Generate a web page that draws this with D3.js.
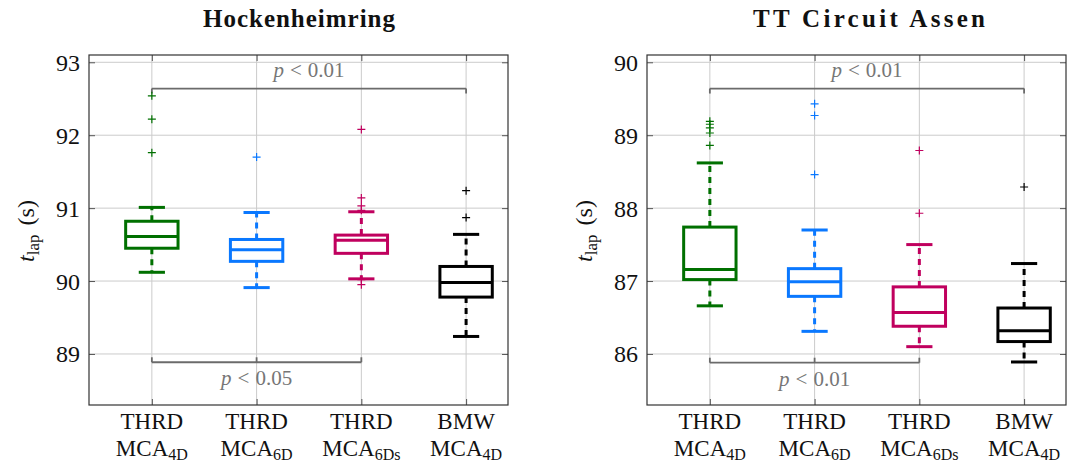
<!DOCTYPE html>
<html>
<head>
<meta charset="utf-8">
<script src="https://cdn.jsdelivr.net/npm/d3@7"></script>
<style>
  body { margin: 0; background: #fff; }
  svg { display: block; }
  text { font-family: "Liberation Serif", "Times New Roman", serif; }
</style>
</head>
<body>
<svg id="chart" width="1091" height="474"></svg>
<script>
// Categories (two-line tick labels) and series colours
const categoryTop = ["THRD", "THRD", "THRD", "BMW"];
const categorySub = ["4D", "6D", "6Ds", "4D"];
const seriesColors = ["#007000", "#0a78ff", "#c0005e", "#000000"];

// Hockenheimring lap times (s): whiskers, quartiles, medians, outliers
const hockLower  = [90.12, 89.91, 90.03, 89.24];
const hockQ1     = [90.45, 90.27, 90.38, 89.78];
const hockMedian = [90.61, 90.43, 90.56, 89.98];
const hockQ3     = [90.82, 90.57, 90.63, 90.20];
const hockUpper  = [91.01, 90.94, 90.95, 90.64];
const hockOutliers = [
  [92.54, 92.22, 91.76],
  [91.70],
  [92.08, 91.14, 91.03, 90.97, 90.02, 89.95],
  [91.24, 90.87]
];
const hockTicks = [89, 90, 91, 92, 93];

// TT Circuit Assen lap times (s)
const assenLower  = [86.66, 86.31, 86.10, 85.89];
const assenQ1     = [87.02, 86.79, 86.38, 86.17];
const assenMedian = [87.16, 86.99, 86.57, 86.32];
const assenQ3     = [87.74, 87.17, 86.92, 86.63];
const assenUpper  = [88.62, 87.70, 87.50, 87.24];
const assenOutliers = [
  [89.19, 89.15, 89.10, 89.03, 88.86],
  [89.43, 89.27, 88.46],
  [88.79, 87.93],
  [88.29]
];
const assenTicks = [86, 87, 88, 89, 90];

// Significance brackets: from/to category, level, label, label category
const hockBrackets = [
  { from: 1, to: 4, level: 92.64, label: "0.01", side: "top" },
  { from: 1, to: 3, level: 88.886, label: "0.05", side: "bottom", mid: 2 }
];
const assenBrackets = [
  { from: 1, to: 4, level: 89.64, label: "0.01", side: "top" },
  { from: 1, to: 3, level: 85.88, label: "0.01", side: "bottom", mid: 2 }
];

const svg = d3.select("#chart");
const plotTop = 55, plotBottom = 405;

function drawPanel(cfg) {
  const x = d3.scaleLinear().domain([0.4, 4.4]).range([cfg.x0, cfg.x1]);
  const y = d3.scaleLinear().domain(cfg.yDomain).range([plotBottom, plotTop]);
  const g = svg.append("g");
  const cats = [1, 2, 3, 4];

  // grid
  g.append("g").selectAll("line").data(cats).join("line")
    .attr("x1", d => x(d)).attr("x2", d => x(d))
    .attr("y1", plotTop).attr("y2", plotBottom)
    .attr("stroke", "#cbcbcb").attr("stroke-width", 1);
  g.append("g").selectAll("line").data(cfg.ticks).join("line")
    .attr("x1", cfg.x0).attr("x2", cfg.x1)
    .attr("y1", d => y(d)).attr("y2", d => y(d))
    .attr("stroke", "#cbcbcb").attr("stroke-width", 1);

  // axes with inward ticks on all four sides
  const tk = 6;
  const axL = d3.axisRight(y).tickValues(cfg.ticks).tickSize(tk).tickFormat("");
  const axR = d3.axisLeft(y).tickValues(cfg.ticks).tickSize(tk).tickFormat("");
  const axB = d3.axisTop(x).tickValues(cats).tickSize(tk).tickFormat("");
  const axT = d3.axisBottom(x).tickValues(cats).tickSize(tk).tickFormat("");
  [[axL, `translate(${cfg.x0},0)`], [axR, `translate(${cfg.x1},0)`],
   [axB, `translate(0,${plotBottom})`], [axT, `translate(0,${plotTop})`]].forEach(([ax, tr]) => {
    const a = g.append("g").attr("transform", tr).call(ax);
    a.select(".domain").remove();
    a.selectAll("line").attr("stroke", "#555").attr("stroke-width", 1);
  });

  // tick labels
  g.append("g").selectAll("text").data(cfg.ticks).join("text")
    .attr("x", cfg.x0 - 9).attr("y", d => y(d) + 8.5)
    .attr("text-anchor", "end").attr("font-size", 24).attr("fill", "#111")
    .text(d => d);

  // category labels, two lines each
  const cl = g.append("g").selectAll("text").data(cats).join("text")
    .attr("x", d => x(d)).attr("y", 429)
    .attr("text-anchor", "middle").attr("font-size", 23).attr("fill", "#111");
  cl.append("tspan").attr("x", d => x(d)).text(d => categoryTop[d - 1]);
  cl.append("tspan").attr("x", d => x(d)).attr("dy", 27).text("MCA");
  cl.append("tspan").attr("font-size", 16).attr("dy", 4).text(d => categorySub[d - 1]);

  // frame
  g.append("rect").attr("x", cfg.x0).attr("y", plotTop)
    .attr("width", cfg.x1 - cfg.x0).attr("height", plotBottom - plotTop)
    .attr("fill", "none").attr("stroke", "#333").attr("stroke-width", 1.2);

  // significance brackets
  const bc = "#6b6b6b";
  cfg.brackets.forEach(b => {
    const by = y(b.level);
    const dir = b.side === "top" ? 1 : -1;
    const pts = [b.from, b.to].concat(b.mid ? [b.mid] : []);
    g.append("line").attr("x1", x(b.from)).attr("x2", x(b.to))
      .attr("y1", by).attr("y2", by).attr("stroke", bc).attr("stroke-width", 1.8);
    pts.forEach(p => g.append("line").attr("x1", x(p)).attr("x2", x(p))
      .attr("y1", by).attr("y2", by + dir * 5).attr("stroke", bc).attr("stroke-width", 1.8));
    const lx = b.side === "top" ? (x(b.from) + x(b.to)) / 2 : x(b.mid);
    const ly = b.side === "top" ? by - 12 : by + 23;
    const t = g.append("text").attr("x", lx).attr("y", ly)
      .attr("text-anchor", "middle").attr("font-size", 21).attr("fill", "#767676");
    t.append("tspan").attr("font-style", "italic").text("p");
    t.append("tspan").attr("dx", 6).text("<");
    t.append("tspan").attr("dx", 6).text(b.label);
  });

  // boxes
  const bw = 0.5, cw = 0.25;
  cats.forEach((c, i) => {
    const col = seriesColors[i];
    const bg = g.append("g").attr("stroke", col).attr("stroke-width", 3).attr("fill", "none");
    // whiskers (dashed)
    bg.append("line").attr("x1", x(c)).attr("x2", x(c))
      .attr("y1", y(cfg.q3[i])).attr("y2", y(cfg.upper[i])).attr("stroke-dasharray", "6,5");
    bg.append("line").attr("x1", x(c)).attr("x2", x(c))
      .attr("y1", y(cfg.q1[i])).attr("y2", y(cfg.lower[i])).attr("stroke-dasharray", "6,5");
    // caps
    [cfg.upper[i], cfg.lower[i]].forEach(v => bg.append("line")
      .attr("x1", x(c - cw / 2)).attr("x2", x(c + cw / 2))
      .attr("y1", y(v)).attr("y2", y(v)));
    // box and median
    bg.append("rect").attr("x", x(c - bw / 2)).attr("y", y(cfg.q3[i]))
      .attr("width", x(c + bw / 2) - x(c - bw / 2)).attr("height", y(cfg.q1[i]) - y(cfg.q3[i]))
      .attr("fill", "#fff");
    bg.append("line").attr("x1", x(c - bw / 2)).attr("x2", x(c + bw / 2))
      .attr("y1", y(cfg.median[i])).attr("y2", y(cfg.median[i]));
    // outliers
    const s = 4;
    cfg.outliers[i].forEach(v => {
      const px = x(c), py = y(v);
      g.append("path").attr("d", `M${px - s},${py}H${px + s}M${px},${py - s}V${py + s}`)
        .attr("stroke", col).attr("stroke-width", 1.2).attr("fill", "none");
    });
  });

  // title
  g.append("text").attr("x", cfg.titleX).attr("y", 27)
    .attr("text-anchor", "middle").attr("font-size", 25).attr("font-weight", "bold")
    .attr("fill", "#111").attr("textLength", cfg.titleWidth).attr("lengthAdjust", "spacing")
    .text(cfg.title);

  // y label
  const yl = g.append("text")
    .attr("transform", `translate(${cfg.x0 - 55},${(plotTop + plotBottom) / 2 + 1}) rotate(-90)`)
    .attr("text-anchor", "middle").attr("font-size", 24).attr("fill", "#111");
  yl.append("tspan").attr("font-style", "italic").text("t");
  yl.append("tspan").attr("font-size", 17).attr("dy", 5).text("lap");
  yl.append("tspan").attr("dy", -5).attr("dx", 9).text("(s)");
}

drawPanel({
  x0: 89, x1: 508, yDomain: [88.3, 93.1], ticks: hockTicks,
  lower: hockLower, q1: hockQ1, median: hockMedian, q3: hockQ3, upper: hockUpper,
  outliers: hockOutliers, brackets: hockBrackets,
  title: "Hockenheimring", titleX: 299, titleWidth: 192
});
drawPanel({
  x0: 647, x1: 1066, yDomain: [85.3, 90.1], ticks: assenTicks,
  lower: assenLower, q1: assenQ1, median: assenMedian, q3: assenQ3, upper: assenUpper,
  outliers: assenOutliers, brackets: assenBrackets,
  title: "TT Circuit Assen", titleX: 869, titleWidth: 232
});
</script>
</body>
</html>
